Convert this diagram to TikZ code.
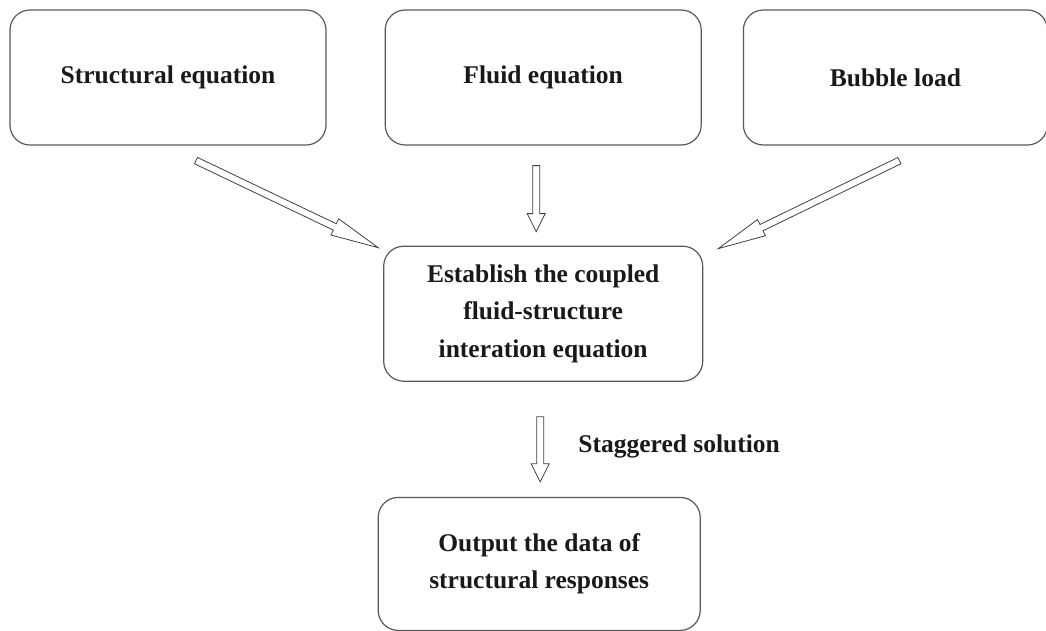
\documentclass[tikz,border=0pt]{standalone}
\usepackage{fontspec}
\setmainfont{Liberation Serif}
\usetikzlibrary{positioning,calc}

\begin{document}
\begin{tikzpicture}[x=1pt,y=-1pt,node distance=58pt,
box/.style={draw=black!65,line width=1.2pt,rounded corners=20pt,
	minimum width=316pt,minimum height=135pt,align=center,
	text=black!90,font=\bfseries\fontsize{25.5}{37.5}\selectfont},
lbl/.style={text=black!90,font=\bfseries\fontsize{25.5}{37.5}\selectfont,inner sep=0pt},
blockarrow/.style={draw=black!75,line width=0.8pt,line join=miter,
	to path={let \p1=(\tikztostart),\p2=(\tikztotarget),
		\n1={atan2(\y2-\y1,\x2-\x1)} in
		($(\p1)+(\n1+90:3.5pt)$) -- ($(\p2)+(\n1+180:#1)+(\n1+90:3.5pt)$)
		-- ($(\p2)+(\n1+180:#1)+(\n1+90:9pt)$) -- (\p2)
		-- ($(\p2)+(\n1+180:#1)+(\n1-90:9pt)$)
		-- ($(\p2)+(\n1+180:#1)+(\n1-90:3.5pt)$)
		-- ($(\p1)+(\n1-90:3.5pt)$) -- cycle}},
blockarrow/.default=18pt]

\useasboundingbox (0,0) rectangle (1046,630);

\node[box]   (struct)      at (168,77.5)   	{Structural equation};
\node[box]   (fluid)  [right=58pt of struct]  	{Fluid equation};
\node[box,minimum width=304pt]   (bubble) [right=41pt of fluid]  	{Bubble load};

\node[box,minimum width=319pt]   (couple) [below=100pt of fluid]  	{Establish the coupled\\fluid-structure\\interation equation};
\node[box,minimum width=322pt,minimum height=133pt]   (output) [below=115pt of couple,xshift=-4pt]  	{Output the data of\\structural responses};

\node[lbl,anchor=west] (stag) at ([shift={(35,65)}]couple.south) {Staggered solution};

\draw[blockarrow=48pt] ([shift={(28,15)}]struct.south) to ([shift={(-5,2)}]couple.north west);
\draw[blockarrow] ([shift={(-7,20)}]fluid.south) to ([shift={(-7,-14)}]couple.north);
\draw[blockarrow=48pt] ([shift={(4,15)}]bubble.south) to ([shift={(15,3)}]couple.north east);
\draw[blockarrow] ([shift={(-3,35)}]couple.south) to ([shift={(1,-15)}]output.north);

\end{tikzpicture}
\end{document}
